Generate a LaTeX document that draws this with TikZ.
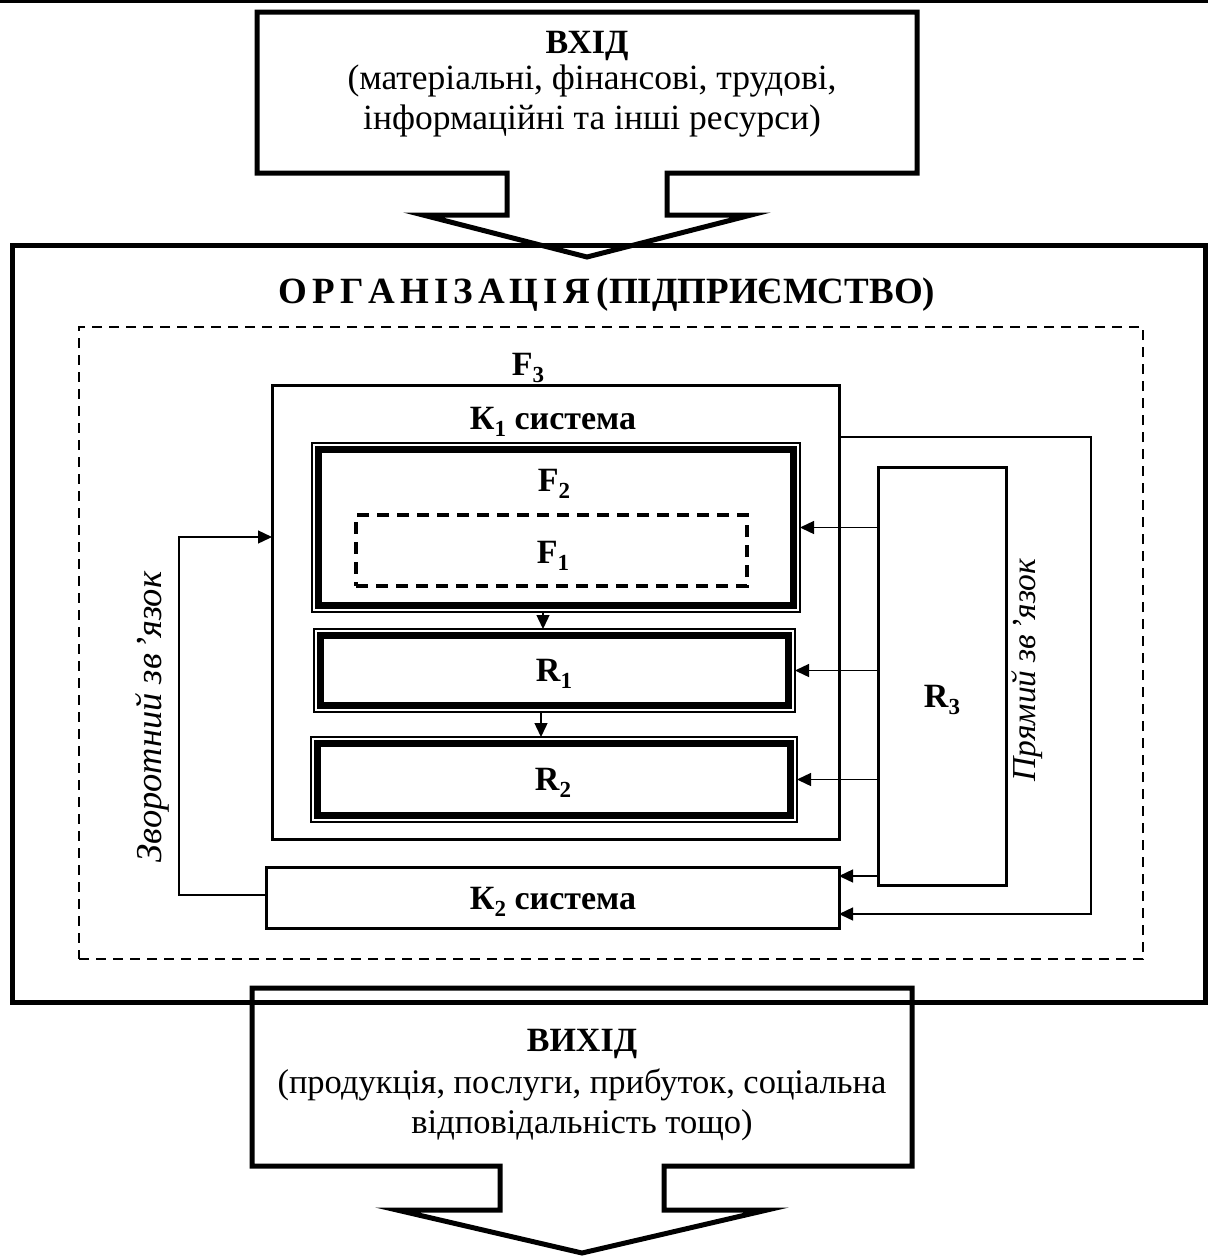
\documentclass[tikz,border=0pt]{standalone}
\usepackage{fontspec}
\setmainfont{Liberation Serif}
\usetikzlibrary{arrows.meta}
\newcommand\subs[1]{\raisebox{-0.2em}{\fontsize{23}{23}\selectfont #1}}
\newcommand\lsp{\hspace{5pt}}
\begin{document}
\begin{tikzpicture}[x=1pt,y=-1pt,
  txt/.style={font=\fontsize{34.5}{40}\selectfont, align=center, inner sep=0pt},
  btxt/.style={font=\fontsize{34}{40}\selectfont\bfseries, inner sep=0pt},
  itxt/.style={font=\fontsize{34}{40}\selectfont\itshape, inner sep=0pt, rotate=90},
  frame/.style={draw, line width=3pt, outer sep=0pt, inner sep=0pt, anchor=north west},
  thinln/.style={line width=1.4pt},
  arr/.style={thinln, -{Triangle[length=14pt,width=13pt]}},
  dbl/.style={draw, line width=1.6pt, outer sep=0pt, inner sep=0pt, anchor=north west},
  thickin/.style={line width=7pt},
  ]
\useasboundingbox (0,0) rectangle (1208,1256);
% top rule
\draw[line width=3pt] (0,1.5) -- (1208,1.5);
% organisation
\node[frame, line width=5pt, minimum width=1193pt, minimum height=757pt] (orgbox) at (12,245) {};
\node[font=\fontsize{37}{40}\selectfont\bfseries, inner sep=0pt] (org) at (607,295) {О\lsp Р\lsp Г\lsp А\lsp Н\lsp І\lsp З\lsp А\lsp Ц\lsp І\lsp Я\hspace{7pt}(ПІДПРИЄМСТВО)};
% input arrow
\draw[line width=5pt] (257,12) -- (917,12) -- (917,173) -- (667,173) -- (667,215) -- (751,215) -- (587,257) -- (423,215) -- (507,215) -- (507,173) -- (257,173) -- cycle;
\node[btxt] (inT) at (587,46) {ВХІД};
\node[txt, font=\fontsize{35.5}{40}\selectfont] (inD) at (592,101) {(матеріальні, фінансові, трудові,\\інформаційні та інші ресурси)};
% output arrow
\draw[line width=5pt] (252,988) -- (912,988) -- (912,1166) -- (664,1166) -- (664,1210) -- (767,1210) -- (582,1253) -- (397,1210) -- (500,1210) -- (500,1166) -- (252,1166) -- cycle;
\node[btxt] (outT) at (582,1044) {ВИХІД};
\node[txt] (outD) at (582,1105) {(продукція, послуги, прибуток, соціальна\\відповідальність тощо)};
% F3 dashed
\node[frame, line width=2.5pt, dash pattern=on 10pt off 7pt, minimum width=1064pt, minimum height=632pt] (F3) at (79,327) {};
\node[btxt] (F3l) at (528,368) {F\subs{3}};
% K1
\node[frame, minimum width=567pt, minimum height=454pt] (K1) at (272,385) {};
\node[btxt] (K1l) at (553,422) {К\subs{1} система};
% F2
\node[dbl, minimum width=488pt, minimum height=169pt] (F2) at (312,443) {};
\draw[thickin] ([shift={(6.5pt,-6.5pt)}]F2.north west) rectangle ([shift={(-6.5pt,6.5pt)}]F2.south east);
\node[btxt] (F2l) at (554,484) {F\subs{2}};
% F1
\node[frame, line width=4pt, dash pattern=on 12pt off 8pt, minimum width=391pt, minimum height=71pt] (F1) at (356,515) {};
\node[btxt] (F1l) at (553,556) {F\subs{1}};
% R1
\node[dbl, minimum width=481pt, minimum height=83pt] (R1) at (314,629) {};
\draw[thickin] ([shift={(6.5pt,-6.5pt)}]R1.north west) rectangle ([shift={(-6.5pt,6.5pt)}]R1.south east);
\node[btxt] (R1l) at (554,674) {R\subs{1}};
% R2
\node[dbl, minimum width=486pt, minimum height=85pt] (R2) at (311,737) {};
\draw[thickin] ([shift={(6.5pt,-6.5pt)}]R2.north west) rectangle ([shift={(-6.5pt,6.5pt)}]R2.south east);
\node[btxt] (R2l) at (553,783) {R\subs{2}};
% R3
\node[frame, minimum width=128pt, minimum height=418pt] (R3) at (878,467) {};
\node[btxt] (R3l) at (942,700) {R\subs{3}};
% K2
\node[frame, minimum width=573pt, minimum height=61pt] (K2) at (266,867) {};
\node[btxt] (K2l) at (553,902) {К\subs{2} система};
% vertical labels
\node[itxt, font=\fontsize{36.5}{40}\selectfont\itshape] (fbl) at (152,717) {Зворотний зв\hspace{4pt}’язок};
\node[itxt, font=\fontsize{33.5}{40}\selectfont\itshape] (ffl) at (1027,670) {Прямий зв\hspace{4pt}’язок};
% connectors
\coordinate (a1) at (543,0);
\coordinate (a2) at (541,0);
\draw[arr] (F2.south -| a1) -- (R1.north -| a1);
\draw[arr] (R1.south -| a2) -- (R2.north -| a2);
\draw[arr] (R3.west |- F2.east) -- (F2.east);
\draw[arr] (R3.west |- R1.east) -- (R1.east);
\draw[arr] (R3.west |- R2.east) -- (R2.east);
\coordinate (k2a) at (0,876);
\draw[arr] (R3.west |- k2a) -- (K2.east |- k2a);
\coordinate (fb1) at (1091,437);
\coordinate (fb2) at (1091,914);
\draw[arr] (K1.east |- fb1) -- (fb1) -- (fb2) -- (K2.east |- fb2);
\coordinate (zb1) at (179,895);
\coordinate (zb2) at (179,537);
\draw[arr] (K2.west |- zb1) -- (zb1) -- (zb2) -- (K1.west |- zb2);
\end{tikzpicture}
\end{document}
